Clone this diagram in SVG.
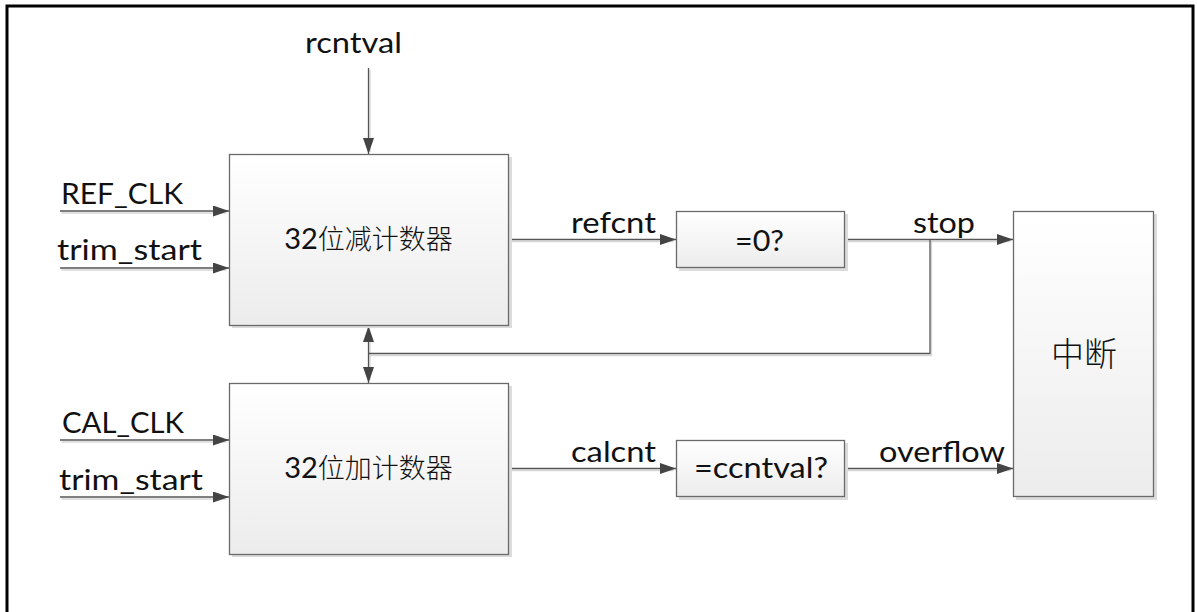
<svg xmlns="http://www.w3.org/2000/svg" width="1197" height="612" viewBox="0 0 1197 612">
<style>
.lbl{font-family:Lato,"Liberation Sans",sans-serif;font-size:28px;fill:#111}
.mid{text-anchor:middle;fill:#111;font-size:27px}
.num{font-family:Lato,"Liberation Sans",sans-serif}
.cjk{font-family:"Noto Sans CJK SC",sans-serif;font-weight:300}
.box{fill:url(#g);stroke:#6a6a6a;stroke-width:1.3}
.shd{fill:#dcdcdc}
.ln{fill:none;stroke:#555;stroke-width:1.3}
.lns{fill:none;stroke:#d6d6d6;stroke-width:1.3}
</style>
<defs>
<linearGradient id="g" x1="0" y1="0" x2="0" y2="1">
<stop offset="0" stop-color="#ffffff"/>
<stop offset="1" stop-color="#ececec"/>
</linearGradient>
<marker id="ah" markerUnits="userSpaceOnUse" markerWidth="17" markerHeight="12" refX="16" refY="5.5" orient="auto-start-reverse">
<path d="M0,0 L16,5.5 L0,11 Z" fill="#444"/>
</marker>
</defs>
<rect x="0" y="0" width="1197" height="612" fill="#fff"/>
<rect x="7" y="6" width="1186" height="700" fill="none" stroke="#000" stroke-width="3"/>

<g id="connectors">
<g class="shadows" transform="translate(1.5,2)">
<path class="lns" d="M368.5,68V150 M60,211H225 M60,268H225 M60,440H225 M60,497H225 M509,239.5H672 M845,239.5H1009 M930,239.5V353.5H368.5 M368.5,330V378 M509,468.5H672 M845,468.5H1009"/>
</g>
<line class="ln" x1="368.5" y1="68" x2="368.5" y2="154" marker-end="url(#ah)"/>
<line class="ln" x1="60" y1="211" x2="229" y2="211" marker-end="url(#ah)"/>
<line class="ln" x1="60" y1="268" x2="229" y2="268" marker-end="url(#ah)"/>
<line class="ln" x1="60" y1="440" x2="229" y2="440" marker-end="url(#ah)"/>
<line class="ln" x1="60" y1="497" x2="229" y2="497" marker-end="url(#ah)"/>
<line class="ln" x1="509" y1="239.5" x2="676" y2="239.5" marker-end="url(#ah)"/>
<line class="ln" x1="845" y1="239.5" x2="1013" y2="239.5" marker-end="url(#ah)"/>
<polyline class="ln" points="930,239.5 930,353.5 368.5,353.5"/>
<line class="ln" x1="368.5" y1="326" x2="368.5" y2="383" marker-start="url(#ah)" marker-end="url(#ah)"/>
<line class="ln" x1="509" y1="468.5" x2="676" y2="468.5" marker-end="url(#ah)"/>
<line class="ln" x1="845" y1="468.5" x2="1013" y2="468.5" marker-end="url(#ah)"/>
<text class="lbl" x="305" y="53" textLength="97" lengthAdjust="spacingAndGlyphs">rcntval</text>
<text class="lbl" x="61" y="204" textLength="122" lengthAdjust="spacingAndGlyphs">REF_CLK</text>
<text class="lbl" x="57" y="260" textLength="145" lengthAdjust="spacingAndGlyphs">trim_start</text>
<text class="lbl" x="62" y="433" textLength="122" lengthAdjust="spacingAndGlyphs">CAL_CLK</text>
<text class="lbl" x="59" y="490" textLength="144" lengthAdjust="spacingAndGlyphs">trim_start</text>
<text class="lbl" x="571" y="233" textLength="85" lengthAdjust="spacingAndGlyphs">refcnt</text>
<text class="lbl" x="913" y="233" textLength="62" lengthAdjust="spacingAndGlyphs">stop</text>
<text class="lbl" x="571" y="462" textLength="85" lengthAdjust="spacingAndGlyphs">calcnt</text>
<text class="lbl" x="879" y="462" textLength="126" lengthAdjust="spacingAndGlyphs">overflow</text>
</g>

<g id="down-counter">
<rect class="shd" x="232" y="157" width="280" height="171"/>
<rect class="box" x="229.5" y="154.5" width="279" height="171"/>
<text class="mid" x="368.5" y="249"><tspan class="num" font-size="29">32</tspan><tspan class="cjk">位减计数器</tspan></text>
</g>

<g id="up-counter">
<rect class="shd" x="232" y="386" width="280" height="171"/>
<rect class="box" x="229.5" y="383.5" width="279" height="171"/>
<text class="mid" x="368.5" y="478"><tspan class="num" font-size="29">32</tspan><tspan class="cjk">位加计数器</tspan></text>
</g>

<g id="eq-zero">
<rect class="shd" x="679" y="214" width="169" height="57"/>
<rect class="box" x="676.5" y="211.5" width="168" height="56"/>
<text class="lbl" x="735" y="251" textLength="49" lengthAdjust="spacingAndGlyphs">=0?</text>
</g>

<g id="eq-ccntval">
<rect class="shd" x="679" y="443" width="169" height="57"/>
<rect class="box" x="676.5" y="440.5" width="168" height="56"/>
<text class="lbl" x="694" y="478" textLength="134" lengthAdjust="spacingAndGlyphs">=ccntval?</text>
</g>

<g id="interrupt">
<rect class="shd" x="1016" y="214" width="141" height="286"/>
<rect class="box" x="1013.5" y="211.5" width="140" height="285"/>
<text class="mid cjk" x="1084" y="366" font-size="33" style="font-size:33px">中断</text>
</g>
</svg>
